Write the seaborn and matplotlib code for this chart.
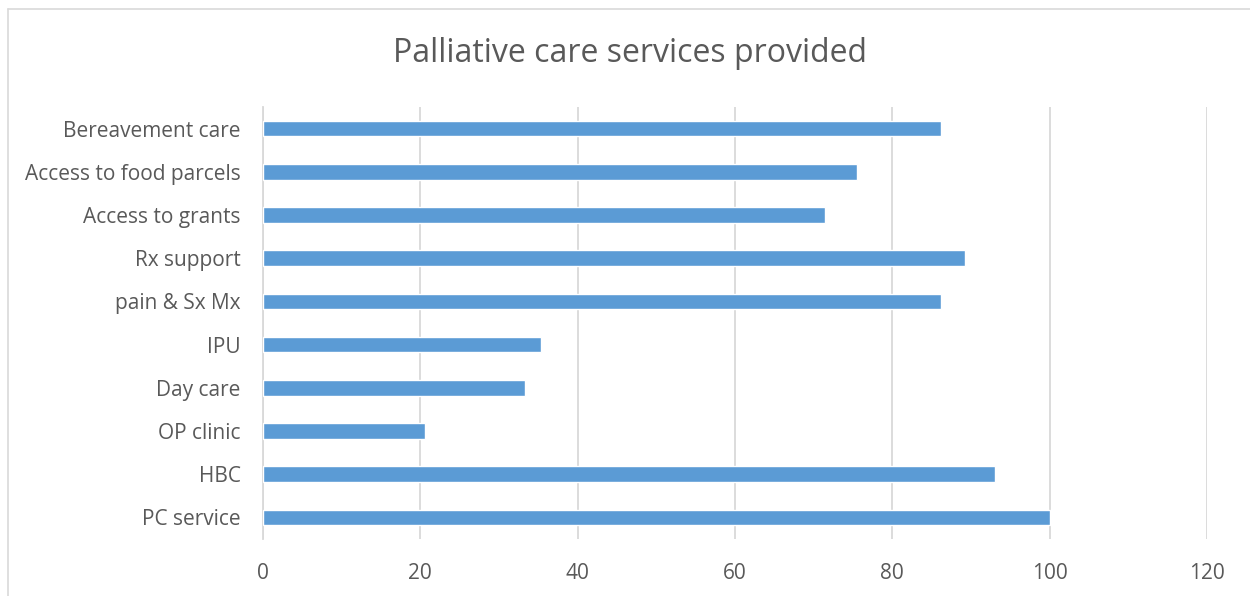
import matplotlib
matplotlib.use("Agg")
import matplotlib.pyplot as plt
import seaborn as sns
import pandas as pd
from matplotlib.lines import Line2D

services = [
    "Bereavement care",
    "Access to food parcels",
    "Access to grants",
    "Rx support",
    "pain & Sx Mx",
    "IPU",
    "Day care",
    "OP clinic",
    "HBC",
    "PC service",
]
percent = [86.2, 75.5, 71.5, 89.2, 86.2, 35.3, 33.3, 20.6, 93.1, 100.0]
x_ticks = [0, 20, 40, 60, 80, 100, 120]

df = pd.DataFrame({"service": services, "percent": percent})

sns.set_theme(style="white")
plt.rcParams["font.family"] = ["Open Sans", "DejaVu Sans"]
text_color = "#595959"
grid_color = "#D9D9D9"

fig = plt.figure(figsize=(12.5, 5.96), dpi=100)
ax = fig.add_axes([263 / 1250, 1 - 539 / 596, (1207 - 263) / 1250, (539 - 107) / 596])

sns.barplot(data=df, x="percent", y="service", orient="h", order=services,
            color="#5B9BD5", saturation=1, width=0.36, ax=ax, zorder=3)

ax.set_xlim(0, 120)
ax.set_ylim(len(services) - 0.5, -0.5)
ax.set_xticks(x_ticks)
ax.set_xticklabels([str(t) for t in x_ticks])
ax.set_xlabel("")
ax.set_ylabel("")
ax.xaxis.grid(True, color=grid_color, linewidth=1.3, zorder=0)
ax.yaxis.grid(False)
ax.set_axisbelow(True)
for side in ["top", "right", "bottom"]:
    ax.spines[side].set_visible(False)
ax.spines["left"].set_color(grid_color)
ax.spines["left"].set_linewidth(1.3)
ax.tick_params(axis="both", length=0, colors=text_color, labelsize=15)
ax.tick_params(axis="y", pad=16)
ax.tick_params(axis="x", pad=17)

fig.text(630 / 1250, 1 - 53 / 596, "Palliative care services provided",
         ha="center", va="center", fontsize=23, color=text_color)

# chart area border (top and left edges; the rest runs off the canvas)
x0, y0 = 7.5 / 1250, 1 - 8.5 / 596
fig.lines.append(Line2D([x0, 1.0], [y0, y0], transform=fig.transFigure,
                        color="#D9D9D9", linewidth=1.2))
fig.lines.append(Line2D([x0, x0], [0.0, y0], transform=fig.transFigure,
                        color="#D9D9D9", linewidth=1.2))

fig.savefig("out.png", dpi=100, facecolor="white")
